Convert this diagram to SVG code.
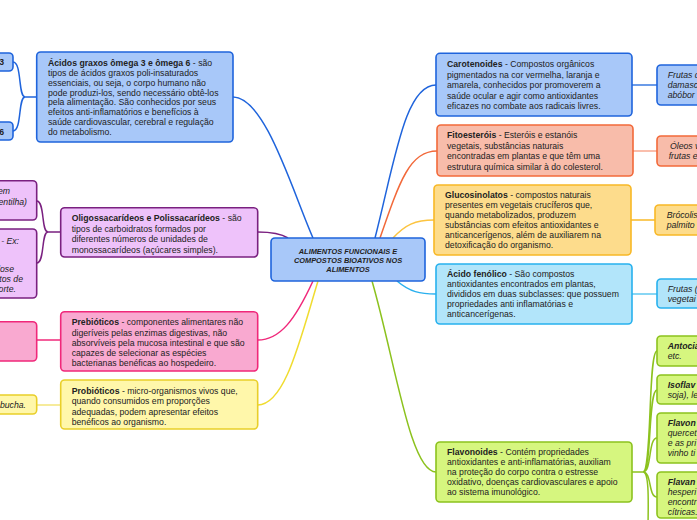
<svg xmlns="http://www.w3.org/2000/svg" width="697" height="520" viewBox="0 0 697 520">
<style>
.t{font-family:"Liberation Sans",Arial,sans-serif;font-size:8.7px;fill:#222}
.b{font-weight:bold}
.i{font-style:italic}
.c{font-family:"Liberation Sans",Arial,sans-serif;font-size:7.4px;font-weight:bold;font-style:italic;fill:#222;text-anchor:middle}
.blue{fill:#a8c8f9;stroke:#1f64dc;stroke-width:1.6}
.org{fill:#f8bcaa;stroke:#f2693a;stroke-width:1.6}
.gold{fill:#fddc8c;stroke:#f8b826;stroke-width:1.6}
.lb{fill:#b2e5fa;stroke:#27b1ee;stroke-width:1.6}
.grn{fill:#d6f67f;stroke:#8cc21e;stroke-width:1.6}
.pur{fill:#eec2fa;stroke:#7a2080;stroke-width:1.6}
.pnk{fill:#f9a9d0;stroke:#f0287a;stroke-width:1.6}
.yel{fill:#fff7aa;stroke:#e9cf29;stroke-width:1.6}
.l{fill:none;stroke-width:1.5}
</style>
<rect width="697" height="520" fill="#ffffff"/>
<g id="connectors">
<path class="l" stroke="#1f64dc" d="M233,97 C265,97 292,190 313,238"/>
<path class="l" stroke="#1f64dc" d="M375,238 C395,160 405,85 436,85"/>
<path class="l" stroke="#f2693a" d="M380,238 C400,180 410,151 437,151"/>
<path class="l" stroke="#fcc440" d="M393,238 C405,225 415,220 434,220"/>
<path class="l" stroke="#2ab0ee" d="M397,281 C410,292 420,294 436,294"/>
<path class="l" stroke="#8cc21e" d="M372,281 C395,360 410,472 436,472"/>
<path class="l" stroke="#7a2080" d="M288,238 C280,233 270,232 257.7,232"/>
<path class="l" stroke="#f0287a" d="M313,281 C295,320 280,340 257.7,340"/>
<path class="l" stroke="#f0dc30" d="M318,281 C300,340 285,405 257.7,405"/>
<path class="l" stroke="#1f64dc" d="M36.7,97 L25,97 M25,97 C18,97 22,62 13,62 M25,97 C18,97 22,131 13,131"/>
<path class="l" stroke="#7a2080" d="M60.7,232 L48,232 M48,232 C41,232 45,201 36.7,201 M48,232 C41,232 45,263 36.7,263"/>
<path class="l" stroke="#f0287a" d="M60.7,340 L36.7,340"/>
<path class="l" stroke="#f3e47a" d="M60.7,405 L36.7,405"/>
<path class="l" stroke="#3a7ae0" d="M632,85 L657,85"/>
<path class="l" stroke="#f8a890" d="M633,151 L657,151"/>
<path class="l" stroke="#f8b826" d="M631,220 L655,220"/>
<path class="l" stroke="#60c8f0" d="M632,294 L657,294"/>
<path class="l" stroke="#8cc21e" d="M632,472 L643,472 M643,472 C652,472 648,351 657,351 M643,472 C652,472 648,390 657,390 M643,472 C652,472 648,438 657,438 M643,472 C652,472 648,497 657,497 M643,472 C650,472 648,510 648,530"/>
</g>
<g id="central">
<rect class="blue" x="271" y="238" width="154" height="43" rx="4"/>
<text class="c" x="348" y="253.5">ALIMENTOS FUNCIONAIS E</text>
<text class="c" x="348" y="262.5">COMPOSTOS BIOATIVOS  NOS</text>
<text class="c" x="348" y="271.5">ALIMENTOS</text>
</g>
<g id="acidos-graxos">
<rect class="blue" x="36.7" y="52" width="196.3" height="90" rx="4"/>
<text class="t" x="48" y="66.3"><tspan class="b">Ácidos graxos ômega 3 e ômega 6</tspan> - são</text>
<text class="t" x="48" y="76.1">tipos de ácidos graxos poli-insaturados</text>
<text class="t" x="48" y="85.8">essenciais, ou seja, o corpo humano não</text>
<text class="t" x="48" y="95.6">pode produzi-los, sendo necessário obtê-los</text>
<text class="t" x="48" y="105.4">pela alimentação. São conhecidos por seus</text>
<text class="t" x="48" y="115.1">efeitos anti-inflamatórios e benefícios à</text>
<text class="t" x="48" y="124.9">saúde cardiovascular, cerebral e regulação</text>
<text class="t" x="48" y="134.7">do metabolismo.</text>
</g>
<g id="omega3">
<rect class="blue" x="-60" y="53" width="73" height="18" rx="4"/>
<text class="t b" x="4" y="64.5" text-anchor="end">3</text>
</g>
<g id="omega6">
<rect class="blue" x="-60" y="122" width="73" height="18" rx="4"/>
<text class="t b" x="4" y="134.5" text-anchor="end">6</text>
</g>
<g id="oligossacarideos">
<rect class="pur" x="60.7" y="207.7" width="197" height="49.3" rx="4"/>
<text class="t" x="71.7" y="221"><tspan class="b">Oligossacarídeos e Polissacarídeos</tspan> - são</text>
<text class="t" x="71.7" y="231.5">tipos de carboidratos formados por</text>
<text class="t" x="71.7" y="242">diferentes números de unidades de</text>
<text class="t" x="71.7" y="252.5">monossacarídeos (açúcares simples).</text>
</g>
<g id="oligo-child1">
<rect class="pur" x="-60" y="180.7" width="96.7" height="39.3" rx="4"/>
<text class="t i" x="10" y="193.5" text-anchor="end">em</text>
<text class="t i" x="27" y="204.5" text-anchor="end">entilha)</text>
</g>
<g id="oligo-child2">
<rect class="pur" x="-60" y="229" width="96.7" height="69" rx="4"/>
<text class="t i" x="19" y="243.5" text-anchor="end">- Ex:</text>
<text class="t i" x="14" y="272" text-anchor="end">lose</text>
<text class="t i" x="23" y="282" text-anchor="end">tos de</text>
<text class="t i" x="16" y="292" text-anchor="end">orte.</text>
</g>
<g id="prebioticos">
<rect class="pnk" x="60.7" y="311.7" width="197" height="59.3" rx="4"/>
<text class="t" x="71.7" y="325.3"><tspan class="b">Prebióticos</tspan> - componentes alimentares não</text>
<text class="t" x="71.7" y="335.6">digeríveis pelas enzimas digestivas, não</text>
<text class="t" x="71.7" y="345.9">absorvíveis pela mucosa intestinal e que são</text>
<text class="t" x="71.7" y="356.1">capazes de selecionar as espécies</text>
<text class="t" x="71.7" y="366.4">bacterianas benéficas ao hospedeiro.</text>
</g>
<g id="pre-child">
<rect class="pnk" x="-60" y="321.7" width="96.7" height="39.3" rx="4"/>
</g>
<g id="probioticos">
<rect class="yel" x="60.7" y="380" width="197" height="49" rx="4"/>
<text class="t" x="71.7" y="394"><tspan class="b">Probióticos</tspan> - micro-organismos vivos que,</text>
<text class="t" x="71.7" y="404.3">quando consumidos em proporções</text>
<text class="t" x="71.7" y="414.6">adequadas, podem apresentar efeitos</text>
<text class="t" x="71.7" y="424.9">benéficos ao organismo.</text>
</g>
<g id="pro-child">
<rect class="yel" x="-60" y="395" width="96.7" height="19" rx="4"/>
<text class="t i" x="26" y="408" text-anchor="end">bucha.</text>
</g>
<g id="carotenoides">
<rect class="blue" x="436" y="53.3" width="196" height="62.7" rx="4"/>
<text class="t" x="447" y="67"><tspan class="b">Carotenoides</tspan> - Compostos orgânicos</text>
<text class="t" x="447" y="77.5">pigmentados na cor vermelha, laranja e</text>
<text class="t" x="447" y="88">amarela, conhecidos por promoverem a</text>
<text class="t" x="447" y="98.5">saúde ocular e agir como antioxidantes</text>
<text class="t" x="447" y="109">eficazes no combate aos radicais livres.</text>
</g>
<g id="carot-child">
<rect class="blue" x="657" y="65" width="80" height="40" rx="4"/>
<text class="t i" x="667.7" y="78">Frutas d</text>
<text class="t i" x="667.7" y="88">damasc</text>
<text class="t i" x="667.7" y="98">abóbor</text>
</g>
<g id="fitoesterois">
<rect class="org" x="437" y="125" width="196" height="51" rx="4"/>
<text class="t" x="447" y="138"><tspan class="b">Fitoesteróis</tspan> - Esteróis e estanóis</text>
<text class="t" x="447" y="148.5">vegetais, substâncias naturais</text>
<text class="t" x="447" y="159">encontradas em plantas e que têm uma</text>
<text class="t" x="447" y="169.5">estrutura química similar à do colesterol.</text>
</g>
<g id="fito-child">
<rect class="org" x="657" y="136" width="80" height="30" rx="4"/>
<text class="t i" x="670" y="149">Óleos v</text>
<text class="t i" x="668.7" y="159">frutas e</text>
</g>
<g id="glucosinolatos">
<rect class="gold" x="434" y="185" width="197" height="70" rx="4"/>
<text class="t" x="445" y="198"><tspan class="b">Glucosinolatos</tspan> - compostos naturais</text>
<text class="t" x="445" y="208">presentes em vegetais crucíferos que,</text>
<text class="t" x="445" y="218">quando metabolizados, produzem</text>
<text class="t" x="445" y="228">substâncias com efeitos antioxidantes e</text>
<text class="t" x="445" y="238">anticancerígenos, além de auxiliarem na</text>
<text class="t" x="445" y="248">detoxificação do organismo.</text>
</g>
<g id="gluco-child">
<rect class="gold" x="655" y="205" width="80" height="30" rx="4"/>
<text class="t i" x="666.7" y="218">Brócolis</text>
<text class="t i" x="666.7" y="228">palmito</text>
</g>
<g id="acido-fenolico">
<rect class="lb" x="436" y="264" width="196" height="60" rx="4"/>
<text class="t" x="447" y="277"><tspan class="b">Ácido fenólico</tspan> - São compostos</text>
<text class="t" x="447" y="287">antioxidantes encontrados em plantas,</text>
<text class="t" x="447" y="297">divididos em duas subclasses: que possuem</text>
<text class="t" x="447" y="307">propriedades anti inflamatórias e</text>
<text class="t" x="447" y="317">anticancerígenas.</text>
</g>
<g id="fenolico-child">
<rect class="lb" x="657" y="279" width="80" height="29" rx="4"/>
<text class="t i" x="667.7" y="292">Frutas (</text>
<text class="t i" x="667.7" y="302">vegetai</text>
</g>
<g id="flavonoides">
<rect class="grn" x="436" y="442" width="196" height="60" rx="4"/>
<text class="t" x="447" y="455"><tspan class="b">Flavonoides</tspan> - Contém propriedades</text>
<text class="t" x="447" y="465">antioxidantes e anti-inflamatórias, auxiliam</text>
<text class="t" x="447" y="475">na proteção do corpo contra o estresse</text>
<text class="t" x="447" y="485">oxidativo, doenças cardiovasculares e apoio</text>
<text class="t" x="447" y="495">ao sistema imunológico.</text>
</g>
<g id="antocianinas">
<rect class="grn" x="657" y="336" width="80" height="30" rx="4"/>
<text class="t b i" x="667.7" y="349">Antocia</text>
<text class="t i" x="667.7" y="359">etc.</text>
</g>
<g id="isoflavonas">
<rect class="grn" x="657" y="375" width="80" height="29" rx="4"/>
<text class="t b i" x="667.7" y="388">Isoflav</text>
<text class="t i" x="667.7" y="398">soja), le</text>
</g>
<g id="flavonois">
<rect class="grn" x="657" y="413" width="80" height="50" rx="4"/>
<text class="t b i" x="667.7" y="426">Flavon</text>
<text class="t i" x="667.7" y="436">quercet</text>
<text class="t i" x="667.7" y="446">e as pri</text>
<text class="t i" x="667.7" y="456">vinho ti</text>
</g>
<g id="flavanonas">
<rect class="grn" x="657" y="472" width="80" height="46" rx="4"/>
<text class="t b i" x="667.7" y="485">Flavan</text>
<text class="t i" x="667.7" y="495">hesperi</text>
<text class="t i" x="667.7" y="505">encontr</text>
<text class="t i" x="667.7" y="515">cítricas.</text>
</g>
</svg>
